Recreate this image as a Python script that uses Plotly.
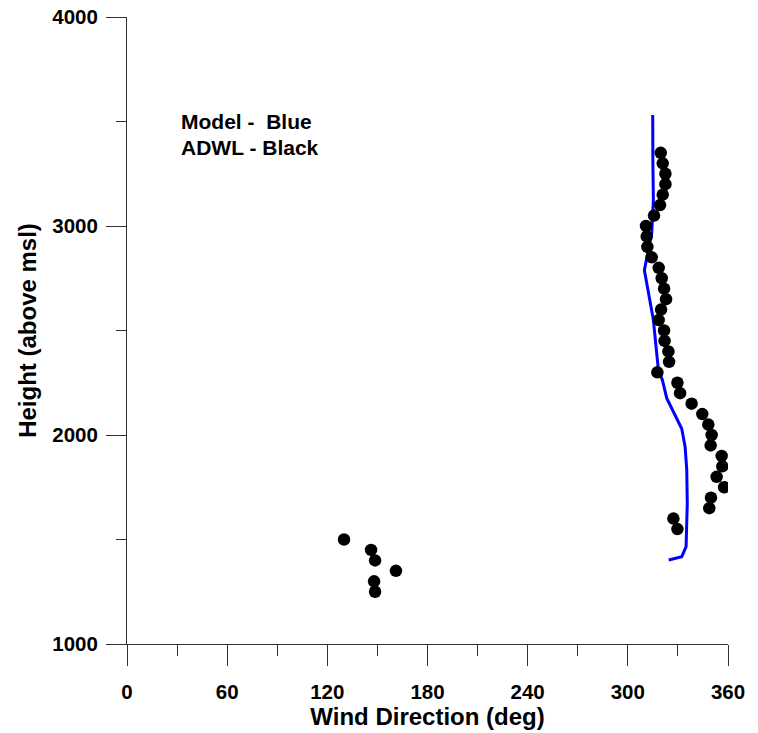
import plotly.graph_objects as go

# ADWL observations (black dots)
obs_dir = [130.0, 146.2, 148.6, 161.1, 148.0, 148.6,
           329.7, 327.3, 348.8, 349.8, 357.7, 353.2, 356.6, 356.2, 349.6, 350.2,
           348.2, 344.6, 338.2, 331.3, 329.7, 317.7, 324.7, 324.3, 322.0, 321.7,
           318.5, 319.9, 322.9, 321.7, 320.3, 318.5, 314.3, 311.7, 311.3, 310.9,
           315.7, 319.3, 320.9, 322.5, 322.5, 320.9, 319.7]
obs_hgt = [1500, 1450, 1400, 1350, 1300, 1250,
           1550, 1600, 1650, 1700, 1750, 1800, 1850, 1900, 1950, 2000,
           2050, 2100, 2150, 2200, 2250, 2300, 2350, 2400, 2450, 2500,
           2550, 2600, 2650, 2700, 2750, 2800, 2850, 2900, 2950, 3000,
           3050, 3100, 3150, 3200, 3250, 3300, 3350]

# Model profile (blue line)
mod_dir = [324.5, 332.3, 334.9, 335.6, 335.3, 334.3, 332.3, 323.3, 320.7,
           318.3, 315.3, 309.9, 314.3, 315.3, 315.0, 314.9]
mod_hgt = [1402, 1418, 1466, 1673, 1833, 1944, 2030, 2176, 2263,
           2311, 2550, 2789, 2965, 3124, 3300, 3531]

x_ticks = [0, 60, 120, 180, 240, 300, 360]
y_ticks = [1000, 2000, 3000, 4000]

FONT = "Liberation Sans"

fig = go.Figure()
fig.add_trace(go.Scatter(x=mod_dir, y=mod_hgt, mode="lines",
                         line=dict(color="#0000ff", width=3), showlegend=False))
fig.add_trace(go.Scatter(x=obs_dir, y=obs_hgt, mode="markers",
                         marker=dict(color="black", size=12.5), showlegend=False))

fig.add_annotation(x=31.0, y=3502, xref="x", yref="y", xanchor="left", yanchor="middle",
                   text="<b>Model -\u00a0 Blue</b>", showarrow=False,
                   font=dict(family=FONT, size=21, color="black"))
fig.add_annotation(x=31.0, y=3378, xref="x", yref="y", xanchor="left", yanchor="middle",
                   text="<b>ADWL - Black</b>", showarrow=False,
                   font=dict(family=FONT, size=21, color="black"))

axis_common = dict(showgrid=False, zeroline=False, showline=True, linecolor="#333333",
                   linewidth=1, ticks="outside", tickcolor="#333333", tickwidth=1,
                   automargin=False,
                   tickfont=dict(family=FONT, size=20.5, color="black", weight="bold"))

fig.update_xaxes(range=[0, 360], tickvals=x_ticks, ticktext=[str(v) for v in x_ticks],
                 ticklen=21, ticklabelstandoff=8,
                 minor=dict(dtick=30, tick0=0, ticklen=11, tickcolor="#333333", ticks="outside"),
                 title=dict(text="<b>Wind Direction (deg)</b>", standoff=4,
                            font=dict(family=FONT, size=24, color="black")),
                 **axis_common)
fig.update_yaxes(range=[1000, 4000], tickvals=y_ticks, ticktext=[str(v) for v in y_ticks],
                 ticklen=20, ticklabelstandoff=4,
                 minor=dict(dtick=500, tick0=1000, ticklen=10, tickcolor="#333333", ticks="outside"),
                 title=dict(text="<b>Height (above msl)</b>", standoff=8,
                            font=dict(family=FONT, size=24, color="black")),
                 **axis_common)

fig.update_layout(width=758, height=733, margin=dict(l=127, r=30, t=17, b=89),
                  paper_bgcolor="white", plot_bgcolor="white",
                  font=dict(family=FONT, color="black"))

fig.write_html("out.html")
